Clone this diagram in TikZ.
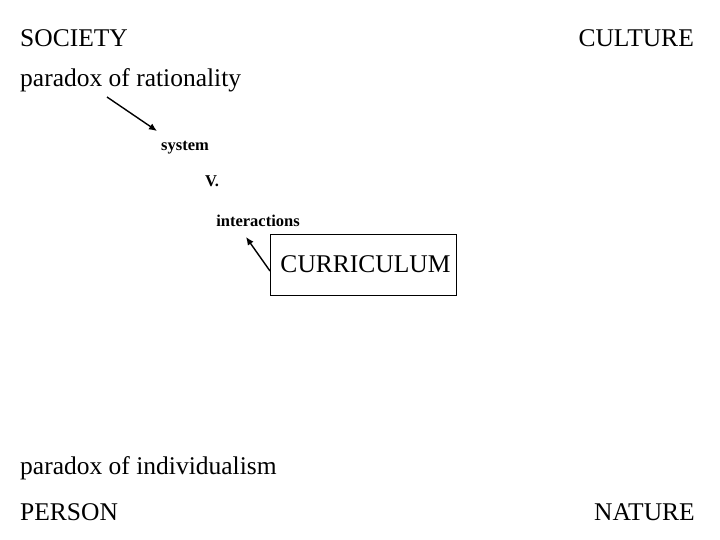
\documentclass[tikz,border=0pt]{standalone}
\usepackage{fontspec}
\setmainfont{Liberation Serif}
\usetikzlibrary{arrows.meta}
\begin{document}
\begin{tikzpicture}[x=1pt,y=-1pt,
  big/.style={inner sep=0pt,font=\fontsize{25.5}{28}\selectfont},
  small/.style={inner sep=0pt,font=\fontsize{16.5}{19}\selectfont\bfseries},
  arr/.style={-{Latex[length=8pt,width=7pt]},line width=1.4pt}]
\useasboundingbox (0,0) rectangle (720,540);
\node[big,anchor=west] (soc) at (20,38) {SOCIETY};
\node[big,anchor=east] (cul) at (694,38) {CULTURE};
\node[big,anchor=west] (pr) at (20,80) {paradox of rationality};
\node[small] (sys) at (185,148) {system};
\node[small] (v) at (212,181) {V.};
\node[small] (int) at (258,221) {interactions};
\node[draw,thick,minimum width=186pt,minimum height=61pt,inner sep=0pt,font=\fontsize{25.5}{28}\selectfont] (cur) at (363,264.5) {\hspace*{5pt}CURRICULUM};
\node[big,anchor=west] (pi) at (20,468) {paradox of individualism};
\node[big,anchor=west] (per) at (20,512) {PERSON};
\node[big,anchor=east] (nat) at (695,512) {NATURE};
\coordinate (a1) at (107,97);
\coordinate (a2) at (270,271);
\draw[arr] (a1) -- (157,131);
\draw[arr] (a2) -- (246,237);
\end{tikzpicture}
\end{document}
